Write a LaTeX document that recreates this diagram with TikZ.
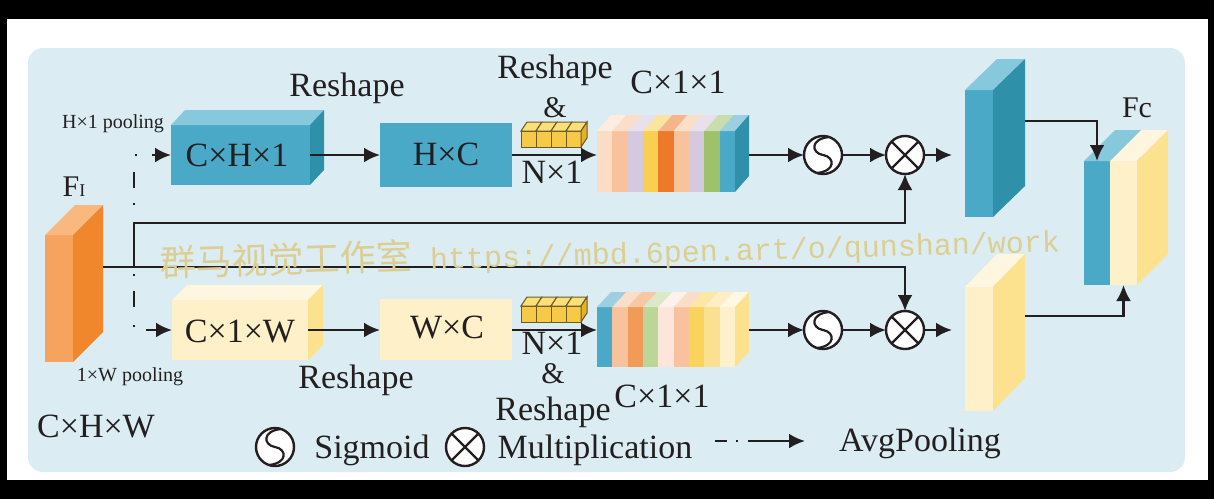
\documentclass[tikz,border=0pt]{standalone}
\usepackage{fontspec}
\setmainfont{Liberation Serif}
\newfontfamily\cjkfont{Noto Sans CJK SC}
\newfontfamily\wmfont{Liberation Mono}
\usetikzlibrary{arrows.meta}

\definecolor{bgblue}{RGB}{219,237,243}
\definecolor{ink}{RGB}{35,31,32}
\definecolor{tealF}{RGB}{74,169,198}
\definecolor{tealT}{RGB}{134,201,220}
\definecolor{tealS}{RGB}{47,144,169}
\definecolor{creamF}{RGB}{254,240,200}
\definecolor{creamT}{RGB}{254,246,222}
\definecolor{yelS}{RGB}{252,225,143}
\definecolor{orF}{RGB}{247,163,96}
\definecolor{orS}{RGB}{240,135,45}
\definecolor{orT}{RGB}{249,184,126}
\definecolor{cubeF}{RGB}{246,202,70}
\definecolor{cubeT}{RGB}{251,224,122}
\definecolor{cubeS}{RGB}{226,178,40}
\definecolor{cubeE}{RGB}{110,90,40}
\definecolor{wm}{RGB}{220,206,146}
% stripe colours
\definecolor{pa}{RGB}{251,220,196}
\definecolor{pb}{RGB}{248,195,156}
\definecolor{lv}{RGB}{213,201,223}
\definecolor{yl}{RGB}{248,207,78}
\definecolor{og}{RGB}{236,122,42}
\definecolor{gr}{RGB}{158,193,107}
\definecolor{og2}{RGB}{242,154,88}
\definecolor{gr2}{RGB}{188,214,154}
\definecolor{pk}{RGB}{253,229,218}
\definecolor{yl2}{RGB}{249,211,92}
\definecolor{ly}{RGB}{251,224,145}
\definecolor{cr}{RGB}{254,240,203}

% top and side faces of a box whose front face is node #1
\newcommand\threed[5]{%
  \fill[#4] (#1.north west) -- ([shift={(#2,-#3)}]#1.north west) -- ([shift={(#2,-#3)}]#1.north east) -- (#1.north east) -- cycle;
  \fill[#5] (#1.north east) -- ([shift={(#2,-#3)}]#1.north east) -- ([shift={(#2,-#3)}]#1.south east) -- (#1.south east) -- cycle;
}
% striped block: x0,y0,w,h,dx,dy,side colour,colour list
\newcommand\stripeblock[8]{%
  \pgfmathsetmacro\sw{#3/9}%
  \foreach \cc [count=\ii from 0] in {#8} {%
    \pgfmathsetmacro\xa{#1+\ii*\sw}%
    \pgfmathsetmacro\xb{#1+(\ii+1)*\sw+0.4}%
    \fill[\cc] (\xa,#2) rectangle (\xb,#2+#4);
    \fill[\cc!55!white] (\xa,#2) -- (\xa+#5,#2-#6) -- (\xb+#5,#2-#6) -- (\xb,#2) -- cycle;
  }%
  \fill[#7] (#1+#3,#2) -- (#1+#3+#5,#2-#6) -- (#1+#3+#5,#2+#4-#6) -- (#1+#3,#2+#4) -- cycle;
}
% row of four small cubes, front top-left at (#1,#2)
\newcommand\cuberow[2]{%
  \foreach \ii in {0,...,3} {%
    \pgfmathsetmacro\xa{#1+15*\ii}%
    \filldraw[fill=cubeF, draw=cubeE, line width=0.5pt] (\xa,#2) rectangle ++(15,16);
    \filldraw[fill=cubeT, draw=cubeE, line width=0.5pt] (\xa,#2) -- ++(6,-9) -- ++(15,0) -- ++(-6,9) -- cycle;
  }%
  \filldraw[fill=cubeS, draw=cubeE, line width=0.5pt] (#1+60,#2) -- ++(6,-9) -- ++(0,16) -- ++(-6,9) -- cycle;
}
\newcommand\sigsym[1]{%
  \begin{scope}[shift={(#1.center)}]
    \draw[ink, line width=1.1pt] (6,-18) .. controls (-13,-16) and (-12,-2) .. (0,0) .. controls (12,2) and (13,16) .. (-6,18);
  \end{scope}}
\newcommand\mulsym[1]{%
  \draw[ink, line width=1.1pt] (#1.north west) -- (#1.south east) (#1.north east) -- (#1.south west);}

\begin{document}
\begin{tikzpicture}[x=0.5pt, y=-0.5pt,
  box/.style 2 args={rectangle, inner sep=0pt, outer sep=0pt, minimum width={#1*0.5pt}, minimum height={#2*0.5pt}},
  lbl/.style={font=\fontsize{17}{17}\selectfont, text=ink, inner sep=0pt, anchor=base},
  small/.style={font=\fontsize{10}{10}\selectfont, text=ink, inner sep=0pt, anchor=base},
  circ/.style={circle, draw=ink, fill=white, line width=1.2pt, minimum size=19pt, inner sep=0pt, outer sep=0pt},
  ln/.style={draw=ink, line width=1.3pt},
  arr/.style={ln, -{Latex[length=8pt,width=7.5pt]}},
  ddash/.style={dash pattern=on 1pt off 7.5pt on 8pt off 9pt}]
\useasboundingbox (0,0) rectangle (1214,499);
\fill[black] (0,0) rectangle (1214,499);
\fill[white] (7,19) rectangle (1208,480);
\fill[bgblue, rounded corners=7.5pt] (28,48) rectangle (1185,472);

% ---------- blocks ----------
\node[box={28}{127}, fill=orF] (fi) at (59,298.5) {};
\threed{fi}{30}{30}{orT}{orS}

\node[box={139}{60}, fill=tealF] (ch1) at (240.5,155) {};
\threed{ch1}{14}{15}{tealT}{tealS}
\node[box={132}{64}, fill=tealF] (hc) at (446,155) {};
\cuberow{521}{131}
\node[box={138}{61}] (s1) at (666,161.5) {};
\stripeblock{597}{131}{138}{61}{14}{16}{tealS}{pa,pb,lv,yl,og,pb,lv,gr,tealF}

\node[box={136}{60}, fill=creamF] (c1w) at (240,330) {};
\threed{c1w}{15}{15}{creamT}{yelS}
\node[box={132}{61}, fill=creamF] (wc) at (446,329) {};
\cuberow{521}{306}
\node[box={138}{60}] (s2) at (666,337) {};
\stripeblock{597}{307}{138}{60}{14}{15}{yelS}{tealF,pb,og2,gr2,pk,pb,yl2,ly,cr}

\node[box={28}{127}, fill=tealF] (t1) at (979,153.5) {};
\threed{t1}{32}{31}{tealT}{tealS}
\node[box={28}{124}, fill=creamF] (t2) at (979,349) {};
\threed{t2}{32}{33}{creamT}{yelS}

\node[box={26}{124}, fill=tealF] (fca) at (1097,223) {};
\threed{fca}{31}{31}{tealT}{tealS}
\node[box={27}{124}, fill=creamF] (fcb) at (1123.5,223) {};
\threed{fcb}{31}{31}{creamT}{yelS}

\node[circ] (sig1) at (823,155) {}; \sigsym{sig1}
\node[circ] (mul1) at (905,155) {}; \mulsym{mul1}
\node[circ] (sig2) at (823,330) {}; \sigsym{sig2}
\node[circ] (mul2) at (905,330) {}; \mulsym{mul2}

% ---------- connectors ----------
\path (fi.east) ++(30,-31.5) coordinate (fir);
\path (fir) ++(31,0) coordinate (j1);
\path (j1) ++(0,-44) coordinate (j2);
\draw[arr] (fir) -| (mul2.north);
\draw[arr] (j1) -- (j2) -| (mul1.south);
\draw[arr, ddash, dash phase=16.5pt] (j2) |- (ch1.west);
\draw[arr, ddash, dash phase=22pt] (j1) |- (c1w.west);

\draw[arr] (ch1.east) -- (hc.west);
\draw[arr] (hc.east) -- (hc.east -| s1.west);
\path (s1.east |- sig1.west) ++(14,0) coordinate (s1r);
\draw[arr] (s1r) -- (sig1);
\draw[arr] (sig1) -- (mul1);
\path (mul1.east) ++(28,0) coordinate (t1in);
\draw[arr] (mul1) -- (t1in);
\path (t1.north east) ++(32,31) coordinate (t1out);
\draw[arr] (t1out) -| (fca.north);

\draw[arr] (c1w.east) -- (c1w.east -| wc.west);
\draw[arr] (wc.east |- c1w.east) -- (c1w.east -| s2.west);
\path (s2.east |- sig2.west) ++(14,0) coordinate (s2r);
\draw[arr] (s2r) -- (sig2);
\draw[arr] (sig2) -- (mul2);
\path (mul2.east) ++(28,0) coordinate (t2in);
\draw[arr] (mul2) -- (t2in);
\path (t2.north east) ++(32,29) coordinate (t2out);
\draw[arr] (t2out) -| (fcb.south);

% ---------- labels ----------
\node[lbl] (rs1) at (347,96) {Reshape};
\node[small] (hp) at (113,128) {H×1 pooling};
\node[lbl] (ch1t) at (237,166) {C×H×1};
\node[lbl] (hct) at (446,165) {H×C};
\node[lbl] (rs2) at (555,78) {Reshape};
\node[lbl, font=\fontsize{15}{15}\selectfont] (amp1) at (555,117) {\&};
\node[lbl] (n1) at (552,183) {N×1};
\node[lbl] (c11a) at (678,93) {C×1×1};
\node[lbl, font=\fontsize{15}{15}\selectfont] (fct) at (1137,117) {Fc};
\node[lbl, font=\fontsize{15}{15}\selectfont] (fit) at (74,196) {F{\fontsize{9}{9}\selectfont I}};
\node[lbl] (c1wt) at (240,342) {C×1×W};
\node[lbl] (wct) at (447,338) {W×C};
\node[lbl] (rs3) at (356,388) {Reshape};
\node[small] (wp) at (130,381) {1×W pooling};
\node[lbl] (chw) at (96,437) {C×H×W};
\node[lbl] (n2) at (552,354) {N×1};
\node[lbl, font=\fontsize{15}{15}\selectfont] (amp2) at (553,383) {\&};
\node[lbl] (rs4) at (553,420) {Reshape};
\node[lbl] (c11b) at (662,407) {C×1×1};

% ---------- legend ----------
\node[circ] (lsig) at (275,447) {}; \sigsym{lsig}
\node[lbl] (lsigt) at (372,458) {Sigmoid};
\node[circ] (lmul) at (465,447) {}; \mulsym{lmul}
\node[lbl] (lmult) at (595,458) {Multiplication};
\coordinate (lgA) at (715,441);
\coordinate (lgB) at (805,441);
\draw[arr, dash pattern=on 6pt off 4.5pt on 1pt off 5pt on 40pt off 1pt] (lgA) -- (lgB);
\node[lbl] (lavg) at (920,451) {AvgPooling};

% ---------- watermark ----------
\node[anchor=base west, rotate=1.6, inner sep=0pt, text=wm] (wmk) at (160,277)
  {{\cjkfont\fontsize{18}{18}\selectfont 群马视觉工作室}{\wmfont\fontsize{15}{15}\selectfont\ https://mbd.6pen.art/o/qunshan/work}};
\end{tikzpicture}
\end{document}
